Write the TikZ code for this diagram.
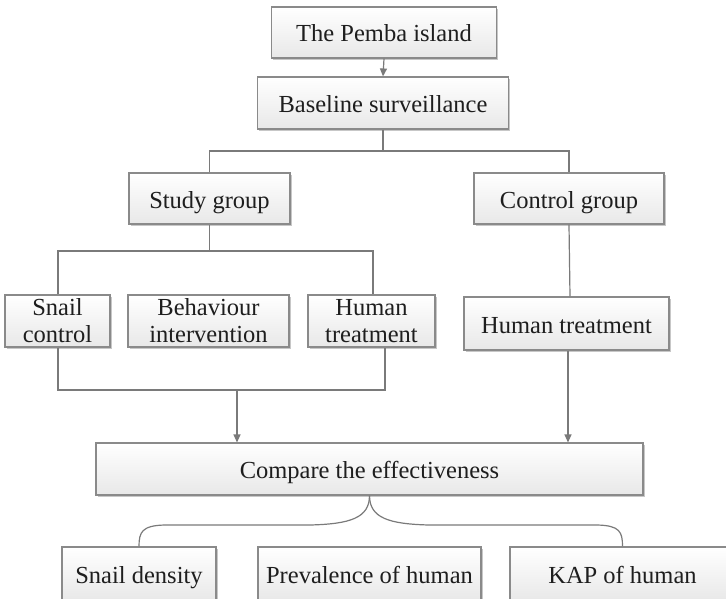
\documentclass[tikz,border=0pt]{standalone}
\usepackage{fontspec}
\setmainfont{Liberation Serif}
\usetikzlibrary{arrows.meta,shadows}
\definecolor{lncol}{HTML}{7A7A7A}
\definecolor{bdcol}{HTML}{8A8A8A}
\definecolor{txcol}{HTML}{1E1E1E}
\tikzset{
  box/.style={draw=bdcol, line width=1.1pt, top color=white, bottom color=black!9,
    inner sep=0pt, text=txcol, align=center,
    font=\fontsize{24.5}{27}\selectfont,
    drop shadow={shadow xshift=1.6pt, shadow yshift=-1.6pt, opacity=0.22, fill=black}},
  one/.style={box, text height=20pt, text depth=1pt},
  conn/.style={draw=lncol, line width=1.2pt},
  arr/.style={conn, -{Triangle[length=8pt,width=7pt]}}
}
\begin{document}
\begin{tikzpicture}[x=1pt,y=-1pt]
\clip (0,0) rectangle (726,599);
\fill[white] (0,0) rectangle (726,599);
\node[one, minimum width=225pt, minimum height=51pt] (pemba) at (384,32.5) {The Pemba island};
\node[one, minimum width=251pt, minimum height=52pt] (base) at (383,103) {Baseline surveillance};
\node[one, minimum width=161pt, minimum height=51pt] (study) at (209.5,198.5) {Study group};
\node[one, minimum width=190pt, minimum height=51pt] (control) at (569,198.5) {Control group};
\node[box, minimum width=105pt, minimum height=52pt] (snail) at (57.5,321) {Snail\\control};
\node[box, minimum width=161pt, minimum height=52pt] (behav) at (208.5,321) {Behaviour\\intervention};
\node[box, minimum width=127pt, minimum height=52pt] (humS) at (371.5,321) {Human\\treatment};
\node[one, minimum width=205pt, minimum height=53pt] (humC) at (566.5,323.5) {Human treatment};
\node[one, minimum width=547pt, minimum height=52pt] (comp) at (369.5,469) {Compare the effectiveness};
\node[one, minimum width=154pt, minimum height=54pt] (dens) at (139,574) {Snail density};
\node[one, minimum width=223pt, minimum height=54pt] (prev) at (369.5,574) {Prevalence of human};
\node[one, minimum width=225pt, minimum height=54pt] (kap) at (622.5,574) {KAP of human};

\coordinate (b1) at (383,151);
\coordinate (s1) at (209.5,251);
\coordinate (t1) at (58,251);
\coordinate (t2) at (373,251);
\coordinate (j1) at (58,390);
\coordinate (j2) at (385,390);
\coordinate (j3) at (237,390);
\coordinate (c1) at (568,390);

\draw[arr] (pemba.south) -- (base.north);
\draw[conn] (base.south) -- (b1);
\draw[conn] (study.north) |- (b1) -| (control.north);
\draw[conn] (study.south) -- (s1);
\draw[conn] (snail.north -| t1) -- (t1) -- (t2) -- (humS.north -| t2);
\draw[conn] (control.south) -- ([xshift=3.5pt]humC.north);
\draw[conn] (snail.south -| j1) -- (j1) -- (j2) -- (humS.south -| j2);
\draw[arr] (j3) -- (comp.north -| j3);
\draw[arr] (humC.south -| c1) -- (comp.north -| c1);
\draw[conn] (comp.south) .. controls (369.5,518) and (350,524) .. (310,525)
  -- (165,525) .. controls (142,525.5) and (139,532) .. (dens.north);
\draw[conn] (comp.south) .. controls (369.5,518) and (389,524) .. (429,525)
  -- (597,525) .. controls (620,525.5) and (622.5,532) .. (kap.north);
\end{tikzpicture}
\end{document}
